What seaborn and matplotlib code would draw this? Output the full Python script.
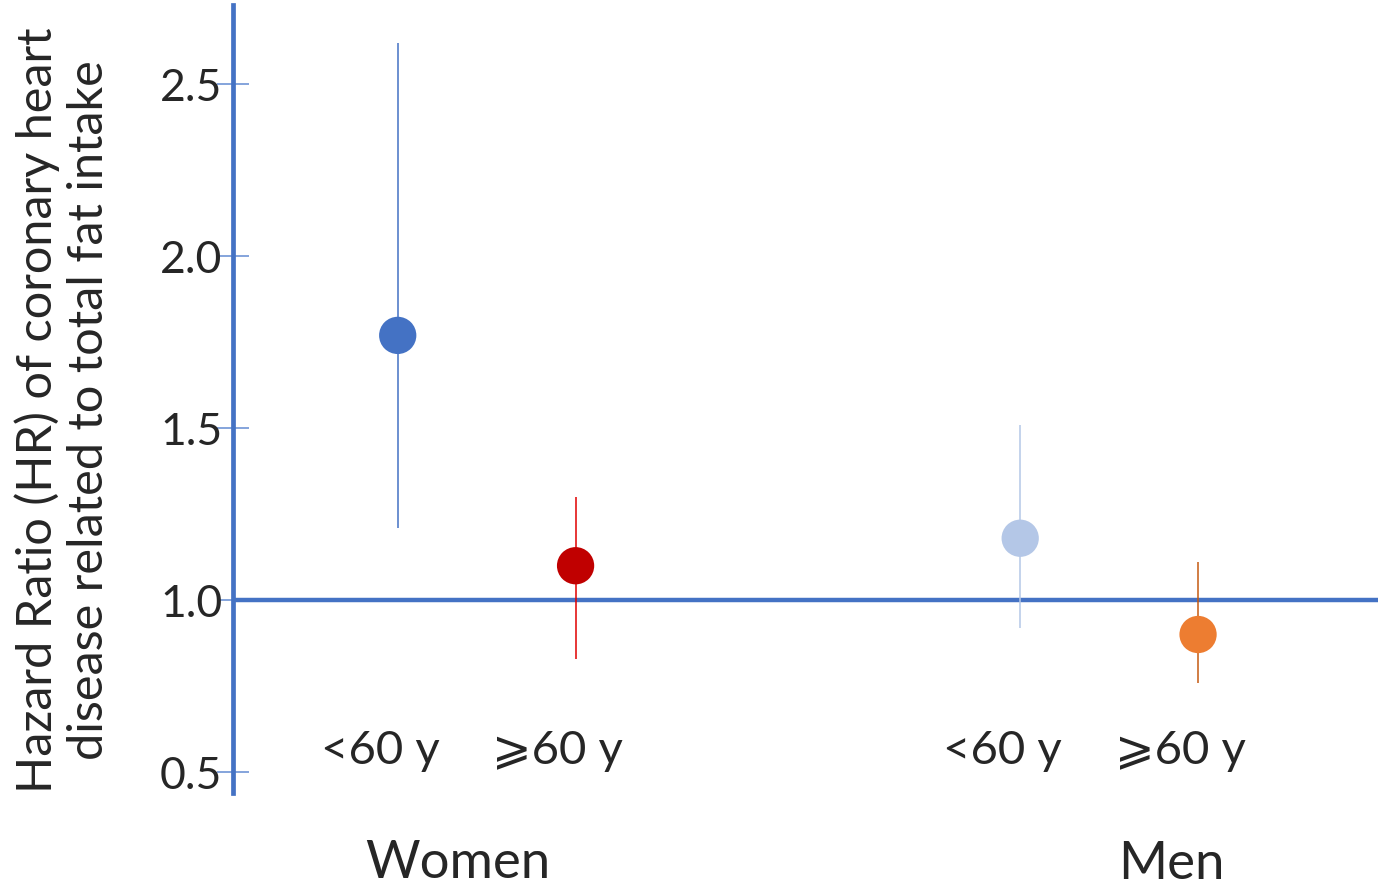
import pandas as pd
import numpy as np
import matplotlib
matplotlib.use("Agg")
import matplotlib.pyplot as plt
import seaborn as sns

# data
groups = ["<60 y", "\u2a7e60 y", "<60 y", "\u2a7e60 y"]
sex = ["Women", "Women", "Men", "Men"]
xpos = [1.0, 2.0, 4.5, 5.5]
hr = [1.77, 1.10, 1.18, 0.90]
ci_low = [1.21, 0.83, 0.92, 0.76]
ci_high = [2.62, 1.30, 1.51, 1.11]
point_colors = ["#4472C4", "#C00000", "#B4C7E7", "#ED7D31"]
bar_colors = ["#4472C4", "#E00000", "#B4C7E7", "#C55A11"]
yticks = [0.5, 1.0, 1.5, 2.0, 2.5]

df = pd.DataFrame({"x": xpos, "hr": hr, "lo": ci_low, "hi": ci_high,
                   "grp": [f"{s} {g}" for s, g in zip(sex, groups)]})

sns.set_style("white")
plt.rcParams['font.family'] = ['Lato', 'DejaVu Sans']

fig = plt.figure(figsize=(13.86, 8.93), dpi=100)
ax = fig.add_axes([0.168, 0.112, 0.826, 0.882])

blue = "#4472C4"
# reference line at HR = 1
ax.axhline(1.0, color=blue, lw=3.2, zorder=1)

# confidence intervals
ax.vlines(df["x"], df["lo"], df["hi"], colors=bar_colors, lw=1.1, zorder=2)

sns.scatterplot(data=df, x="x", y="hr", hue="grp", palette=point_colors,
                s=720, edgecolor="none", legend=False, ax=ax, zorder=3)

ax.set_xlim(0.073, 6.51)
ax.set_ylim(0.439, 2.73)
ax.set_yticks(yticks)
ax.set_yticklabels([f"{t:.1f}" for t in yticks])
ax.set_xticks([])
ax.set_xlabel("")
ax.set_ylabel("Hazard Ratio (HR) of coronary heart\ndisease related to total fat intake",
              fontsize=35, labelpad=35, linespacing=1.22)
ax.yaxis.label.set_y(0.486)

for side in ["top", "right", "bottom"]:
    ax.spines[side].set_visible(False)
ax.spines["left"].set_color(blue)
ax.spines["left"].set_linewidth(3.4)
ax.tick_params(axis="y", direction="inout", length=23, width=1.2,
               color="#6F95D6", labelsize=32, pad=-4, left=True)

# subgroup labels and group labels
for x, g in zip(xpos, groups):
    ax.text(x - 0.1, 0.56, g, ha="center", va="center", fontsize=34)
ax.text(1.34, 0.235, "Women", ha="center", va="center", fontsize=38, clip_on=False)
ax.text(5.35, 0.23, "Men", ha="center", va="center", fontsize=38, clip_on=False)

fig.savefig("out.png", dpi=100)
